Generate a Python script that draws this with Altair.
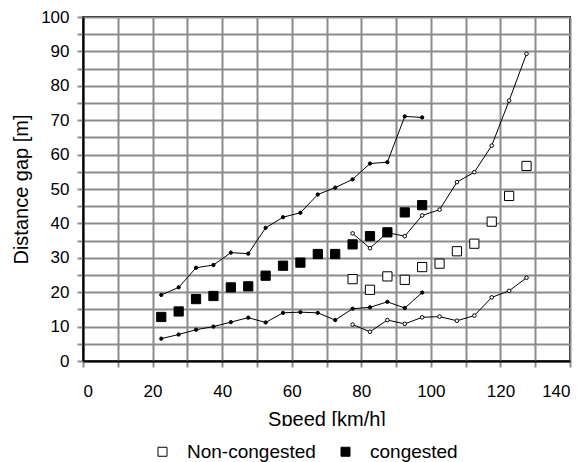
import altair as alt
import pandas as pd

# Speed bins (km/h, bin centres)
speed_cong = [22.5, 27.5, 32.5, 37.5, 42.5, 47.5, 52.5, 57.5, 62.5, 67.5,
              72.5, 77.5, 82.5, 87.5, 92.5, 97.5]
speed_free = [77.5, 82.5, 87.5, 92.5, 97.5, 102.5, 107.5, 112.5, 117.5,
              122.5, 127.5]

# Congested traffic: mean distance gap and its upper/lower band
cong_mean = [12.8, 14.4, 18.0, 18.9, 21.4, 21.7, 24.8, 27.7, 28.6, 31.1,
             31.1, 33.9, 36.3, 37.4, 43.2, 45.3]
cong_upper = [19.2, 21.4, 27.1, 27.9, 31.5, 31.2, 38.7, 41.8, 43.1, 48.4,
              50.4, 52.8, 57.4, 57.8, 71.1, 70.8]
cong_lower = [6.5, 7.7, 9.1, 10.0, 11.3, 12.6, 11.2, 14.0, 14.2, 14.0,
              11.9, 15.2, 15.6, 17.2, 15.4, 19.9]

# Non-congested traffic: mean distance gap and its upper/lower band
free_mean = [23.8, 20.7, 24.6, 23.6, 27.3, 28.3, 31.9, 34.1, 40.5, 48.0, 56.7]
free_upper = [37.1, 32.8, 37.3, 36.3, 42.3, 44.0, 52.0, 54.9, 62.6, 75.7, 89.3]
free_lower = [10.6, 8.5, 11.9, 10.8, 12.7, 12.9, 11.7, 13.2, 18.5, 20.4, 24.2]

regimes = ["Non-congested", "congested"]

x_ticks = list(range(0, 141, 10))
y_ticks = list(range(0, 101, 5))

FONT = "Liberation Sans"
GRID = "#8c8c8c"

means = pd.DataFrame(
    [{"speed": s, "gap": g, "regime": "congested"} for s, g in zip(speed_cong, cong_mean)]
    + [{"speed": s, "gap": g, "regime": "Non-congested"} for s, g in zip(speed_free, free_mean)]
)

bands_cong = pd.DataFrame(
    [{"speed": s, "gap": g, "band": "cong_upper"} for s, g in zip(speed_cong, cong_upper)]
    + [{"speed": s, "gap": g, "band": "cong_lower"} for s, g in zip(speed_cong, cong_lower)]
)
bands_free = pd.DataFrame(
    [{"speed": s, "gap": g, "band": "free_upper"} for s, g in zip(speed_free, free_upper)]
    + [{"speed": s, "gap": g, "band": "free_lower"} for s, g in zip(speed_free, free_lower)]
)

x_enc = alt.X(
    "speed:Q",
    scale=alt.Scale(domain=[0, 140], nice=False, zero=False),
    axis=alt.Axis(
        values=x_ticks,
        labelExpr="datum.value % 20 == 0 ? datum.label : ''",
        title="Speed [km/h]",
    ),
)
y_enc = alt.Y(
    "gap:Q",
    scale=alt.Scale(domain=[0, 100], nice=False),
    axis=alt.Axis(
        values=y_ticks,
        labelExpr="datum.value % 10 == 0 ? datum.label : ''",
        title="Distance gap [m]",
    ),
)


def band_layer(df, open_dots):
    line = alt.Chart(df).mark_line(color="black", strokeWidth=1).encode(
        x=x_enc, y=y_enc, detail="band:N"
    )
    dots = alt.Chart(df).mark_point(
        shape="circle",
        size=13 if open_dots else 11,
        filled=True,
        fill="white" if open_dots else "black",
        stroke="black",
        strokeWidth=1,
        opacity=1,
    ).encode(x=x_enc, y=y_enc)
    return line + dots


squares = alt.Chart(means).mark_square(
    size=85, stroke="black", strokeWidth=1, opacity=1, filled=True
).encode(
    x=x_enc,
    y=y_enc,
    fill=alt.Fill(
        "regime:N",
        scale=alt.Scale(domain=regimes, range=["white", "black"]),
        legend=alt.Legend(
            title=None,
            orient="none",
            direction="horizontal",
            columns=2,
            legendX=54,
            legendY=409,
            padding=16,
            fillColor="white",
            symbolType="square",
            symbolSize=81,
            symbolStrokeColor="black",
            symbolStrokeWidth=1,
            labelFont=FONT,
            labelFontSize=19,
            labelColor="black",
            labelOffset=15,
            columnPadding=20,
            zindex=2,
        ),
    ),
)

chart = (
    alt.layer(band_layer(bands_cong, False), band_layer(bands_free, True), squares)
    .properties(
        width=487,
        height=344,
        autosize=alt.AutoSizeParams(type="none"),
        padding={"left": 83, "top": 17, "right": 14, "bottom": 101},
    )
    .configure_view(stroke="black", strokeWidth=2)
    .configure_axis(
        grid=True,
        gridColor=GRID,
        gridWidth=2,
        gridOpacity=1,
        domainColor="black",
        domainWidth=2,
        tickColor=GRID,
        tickWidth=2,
        tickSize=6,
        labelFont=FONT,
        labelFontSize=17,
        labelColor="black",
        titleFont=FONT,
        titleFontSize=20,
        titleFontWeight="normal",
        titleColor="black",
    )
    .configure_axisX(labelPadding=16, titlePadding=10)
    .configure_axisY(labelPadding=8, titlePadding=9)
)

chart.save("out.html", embed_options={"renderer": "svg", "actions": False})
